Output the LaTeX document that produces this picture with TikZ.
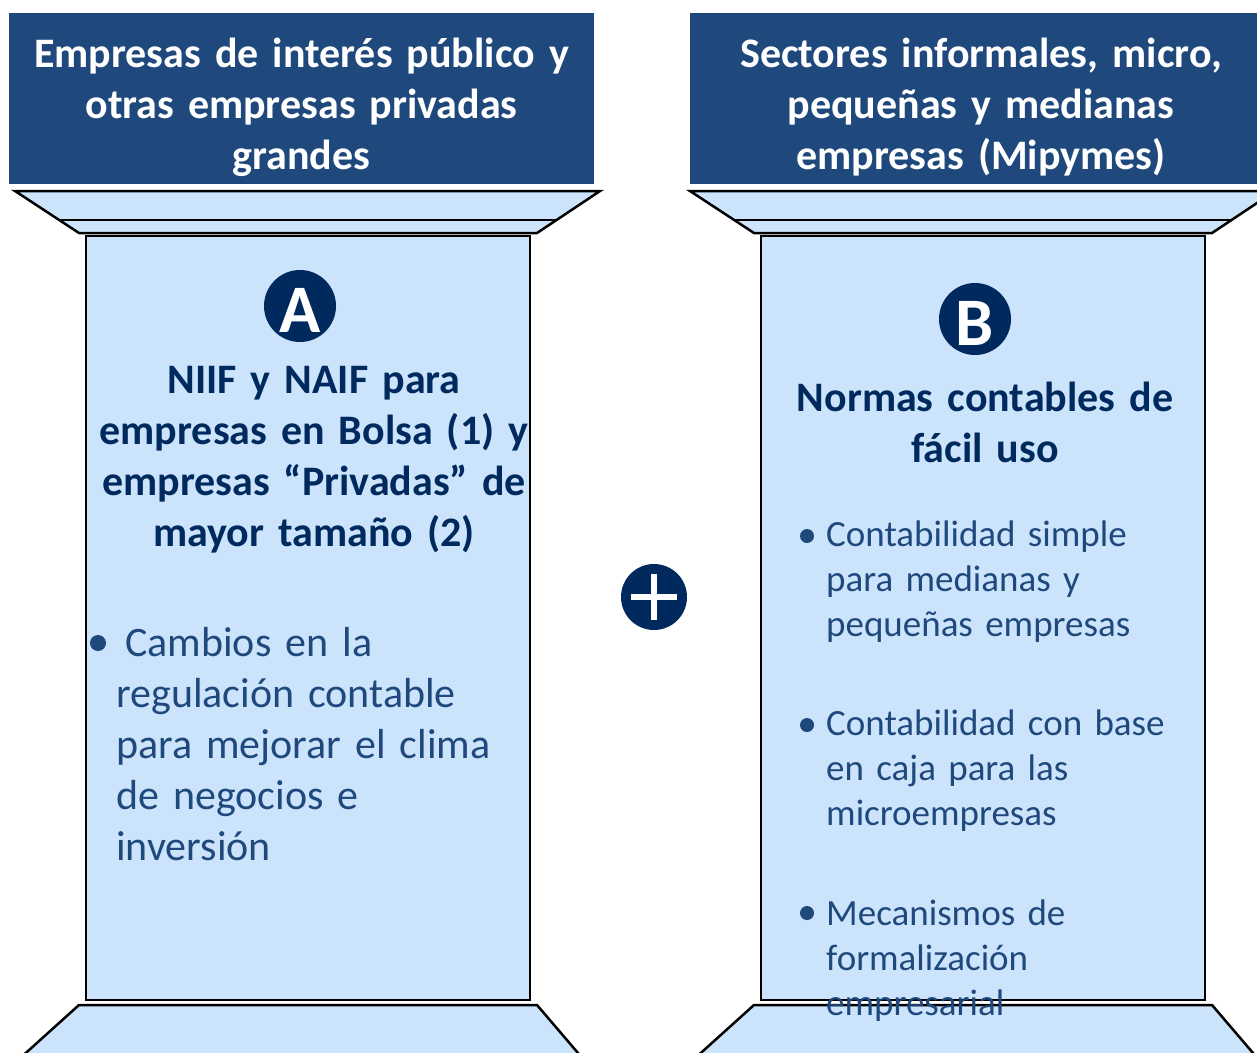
\documentclass[tikz,border=0pt]{standalone}
\usepackage{fontspec}
\setmainfont{Carlito}
\usepackage{tikz}
\usetikzlibrary{calc}

\definecolor{headblue}{RGB}{31,73,125}
\definecolor{pillarblue}{RGB}{204,228,251}
\definecolor{navy}{RGB}{0,42,94}
\definecolor{itemblue}{RGB}{31,73,125}

\begin{document}
\begin{tikzpicture}[x=1pt,y=-1pt,
    pillar/.style={draw=black,line width=2.5pt,fill=pillarblue},
    headtext/.style={anchor=base,inner sep=0pt,text width=600pt,align=center,
        text=white,font=\bfseries\fontsize{42}{51}\selectfont},
    titletext/.style={anchor=base,inner sep=0pt,text width=460pt,align=center,
        text=navy,font=\bfseries\fontsize{42}{51}\selectfont},
    itemtext/.style={anchor=base west,inner sep=0pt,text width=420pt,align=left,
        text=itemblue},
    dot/.style={circle,fill=itemblue,inner sep=0pt,minimum size=#1},
    badge/.style={circle,fill=navy,inner sep=0pt,minimum size=72pt}]
    \useasboundingbox (0,0) rectangle (1257,1052);
    \clip (0,0) rectangle (1257,1052);

    % headers
    \fill[headblue] (9,13) rectangle (594,184);
    \fill[headblue] (690,13) rectangle (1272,184);

    % the two pillars
    \foreach \dx in {0,675} {
    \begin{scope}[xshift=\dx]
        \draw[pillar] (15,191) -- (600,191) -- (537,233) -- (79,233) -- cycle;
        \draw[line width=2.5pt] (59,220) -- (556,220);
        \draw[pillar] (86,236) rectangle (530,1000);
        \draw[pillar] (18,1060) -- (79,1005) -- (537,1005) -- (584,1060);
    \end{scope}
    }

    \node[headtext] (headA) at (301.5,67)
        {Empresas de interés público y\\otras empresas privadas\\grandes};
    \node[headtext] (headB) at (981,67)
        {Sectores informales, micro,\\pequeñas y medianas\\empresas (Mipymes)};

    % column A
    \node[badge] (badgeA) at (300,306) {};
    \node[anchor=base,inner sep=0pt,text=white,font=\bfseries\fontsize{68}{80}\selectfont]
        (letterA) at (300,332) {A};
    \node[titletext] (titleA) at (314,393)
        {NIIF y NAIF para\\empresas en Bolsa (1) y\\empresas “Privadas” de\\mayor tamaño (2)};
    \node[dot=16pt] (dotA) at (98,643) {};
    \node[itemtext,font=\fontsize{42}{51}\selectfont] (itemA) at (116,656)
        {\hspace*{9pt}Cambios en la\\regulación contable\\para mejorar el clima\\de negocios e\\inversión};

    % plus
    \node[circle,fill=navy,inner sep=0pt,minimum size=66pt] (plus) at (654,597) {};
    \draw[white,line width=5.5pt] ($(plus)+(-23,0)$) -- ($(plus)+(23,0)$);
    \draw[white,line width=5.5pt] ($(plus)+(0,-23)$) -- ($(plus)+(0,23)$);

    % column B
    \node[badge] (badgeB) at (975,319) {};
    \node[anchor=base,inner sep=0pt,text=white,font=\bfseries\fontsize{68}{80}\selectfont]
        (letterB) at (975,345) {B};
    \node[titletext] (titleB) at (985,411) {Normas contables de\\fácil uso};
    \node[dot=14pt] (dotB1) at (807,536) {};
    \node[dot=14pt] (dotB2) at (807,725) {};
    \node[dot=14pt] (dotB3) at (807,913) {};
    \node[itemtext,font=\fontsize{37}{45}\selectfont] (itemB1) at (826,546)
        {Contabilidad simple\\para medianas y\\pequeñas empresas};
    \node[itemtext,font=\fontsize{37}{45}\selectfont] (itemB2) at (826,735)
        {Contabilidad con base\\en caja para las\\microempresas};
    \node[itemtext,font=\fontsize{37}{45}\selectfont] (itemB3) at (826,925)
        {Mecanismos de\\formalización\\empresarial};
\end{tikzpicture}
\end{document}
